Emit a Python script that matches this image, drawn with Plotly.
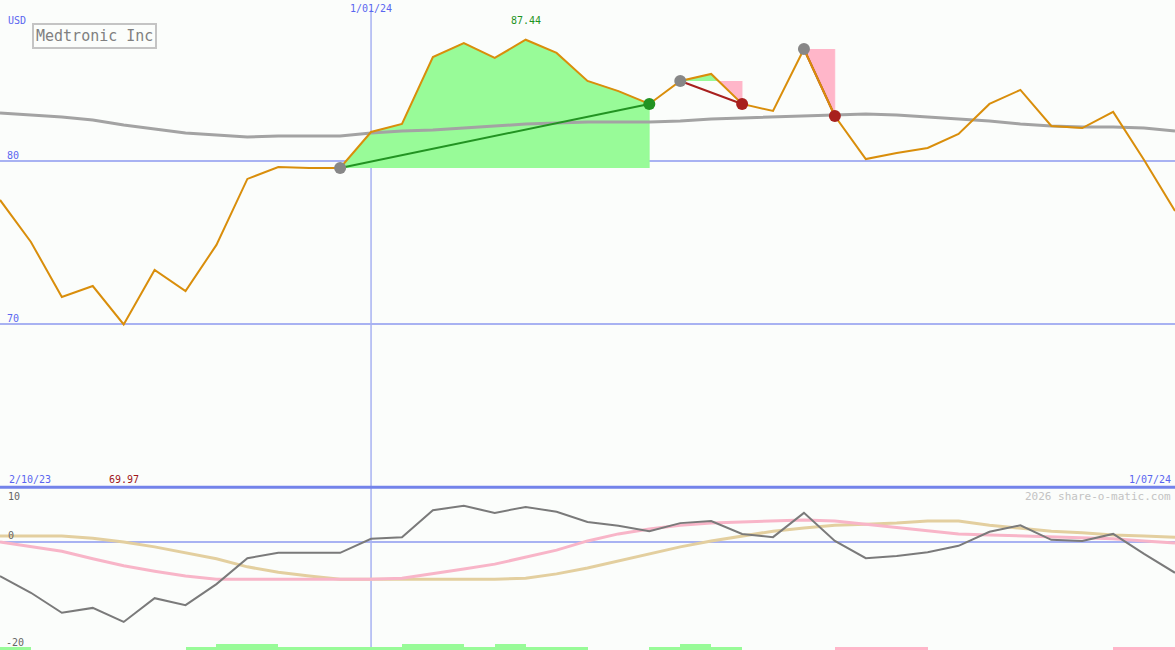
import pandas as pd
import plotly.graph_objects as go

# ---------------- data ----------------
start_date = "2023-10-09"
n_weeks = 39
dates = pd.date_range(start_date, periods=n_weeks, freq="7D")

price = [77.61, 75.03, 71.66, 72.33, 69.97, 73.31, 72.02, 74.85, 78.90, 79.63,
         79.57, 79.57, 81.78, 82.27, 86.38, 87.24, 86.32, 87.44, 86.63, 84.91,
         84.29, 83.50, 84.91, 85.34, 83.50, 83.07, 86.87, 82.76, 80.12, 80.49,
         80.80, 81.66, 83.50, 84.36, 82.15, 82.02, 83.01, 80.06, 76.93]

price_ma = [82.94, 82.82, 82.70, 82.52, 82.21, 81.96, 81.72, 81.60, 81.47, 81.53,
            81.53, 81.53, 81.72, 81.84, 81.90, 82.02, 82.15, 82.27, 82.33, 82.39,
            82.39, 82.39, 82.45, 82.58, 82.64, 82.70, 82.76, 82.82, 82.88, 82.82,
            82.70, 82.58, 82.45, 82.27, 82.15, 82.09, 82.09, 82.02, 81.84]

osc = [-6.3, -9.4, -13.1, -12.2, -14.8, -10.4, -11.7, -7.8, -3.0, -2.0,
       -2.0, -2.0, 0.6, 0.9, 5.9, 6.7, 5.4, 6.5, 5.6, 3.7,
       3.0, 2.0, 3.5, 3.9, 1.5, 0.9, 5.4, 0.2, -3.0, -2.6,
       -1.9, -0.7, 1.9, 3.1, 0.4, 0.2, 1.5, -2.2, -5.7]

osc_fast = [0.0, -0.8, -1.7, -3.1, -4.4, -5.4, -6.3, -6.9, -6.9, -6.9,
            -6.9, -6.9, -6.9, -6.7, -5.9, -5.0, -4.1, -2.8, -1.5, 0.2,
            1.5, 2.4, 3.1, 3.5, 3.7, 3.9, 4.1, 3.9, 3.3, 2.6,
            2.0, 1.5, 1.3, 1.1, 0.9, 0.7, 0.6, 0.2, -0.2]

osc_slow = [1.1, 1.1, 1.1, 0.7, 0.0, -0.9, -2.0, -3.1, -4.6, -5.6,
            -6.3, -6.9, -6.9, -6.9, -6.9, -6.9, -6.9, -6.7, -5.9, -4.8,
            -3.5, -2.2, -0.9, 0.2, 1.1, 2.0, 2.6, 3.1, 3.3, 3.5,
            3.9, 3.9, 3.1, 2.6, 2.0, 1.7, 1.3, 1.1, 0.9]

signal = [1, 0, 0, 0, 0, 0, 1, 2, 2, 1,
          1, 1, 1, 2, 2, 1, 2, 1, 1, 0,
          0, 1, 2, 1, 0, 0, 0, -1, -1, -1,
          0, 0, 0, 0, 0, 0, -1, -1, 0]

trade_entry = [11, 22, 26]
trade_exit = [21, 24, 27]

price_ticks = [80, 70]
osc_ticks = [10, 0, -20]
company = "Medtronic Inc"
currency = "USD"
marker_date = "2024-01-01"
marker_label = "1/01/24"
range_start_label = "2/10/23"
range_end_label = "1/07/24"
credit = "2026 share-o-matic.com"

# ---------------- style ----------------
BG = "#fbfdfb"
BLUE_TXT = "#5a66f0"
GRID = "#a8b2f2"
SEP = "#7383ea"
ORANGE = "#d98e0b"
GREEN_FILL = "#98fb98"
PINK_FILL = "#ffb6c9"
FONT = "DejaVu Sans Mono"

fig = go.Figure()

# trade fills (between price and entry level), merged into one polygon per colour run
def add_poly(xs, ys, color):
    fig.add_trace(go.Scatter(x=xs, y=ys, fill="toself", fillcolor=color,
                             line=dict(width=0.6, color=color), mode="lines", hoverinfo="skip",
                             showlegend=False, xaxis="x", yaxis="y"))

for a, b in zip(trade_entry, trade_exit):
    lvl = price[a]
    pts = [(dates[a], price[a])]
    for i in range(a, b):
        d0, d1 = dates[i], dates[i + 1]
        s0, s1 = price[i] - lvl, price[i + 1] - lvl
        if s0 * s1 < 0:
            t = s0 / (s0 - s1)
            pts.append((d0 + (d1 - d0) * t, lvl))
        pts.append((d1, price[i + 1]))
    runs, cur, cur_up = [], [pts[0]], None
    for d, p in pts[1:]:
        if p == lvl:
            cur.append((d, p))
            if cur_up is not None:
                runs.append((cur_up, cur))
                cur, cur_up = [(d, p)], None
            continue
        up = p > lvl
        if cur_up is None:
            cur_up = up
        cur.append((d, p))
    if cur_up is not None and len(cur) > 1:
        runs.append((cur_up, cur))
    for up, run in runs:
        xs = [run[0][0]] + [d for d, _ in run] + [run[-1][0]]
        ys = [lvl] + [p for _, p in run] + [lvl]
        add_poly(xs, ys, GREEN_FILL if up else PINK_FILL)

# moving average
fig.add_trace(go.Scatter(x=dates, y=price_ma, mode="lines",
                         line=dict(color="#a3a3a3", width=3), showlegend=False,
                         hoverinfo="skip", xaxis="x", yaxis="y"))

# trade lines
for a, b in zip(trade_entry, trade_exit):
    col = "#229322" if price[b] >= price[a] else "#a8201e"
    fig.add_trace(go.Scatter(x=[dates[a], dates[b]], y=[price[a], price[b]], mode="lines",
                             line=dict(color=col, width=2), showlegend=False,
                             hoverinfo="skip", xaxis="x", yaxis="y"))

# price
fig.add_trace(go.Scatter(x=dates, y=price, mode="lines",
                         line=dict(color=ORANGE, width=2), showlegend=False,
                         xaxis="x", yaxis="y"))

# trade markers
fig.add_trace(go.Scatter(x=[dates[a] for a in trade_entry], y=[price[a] for a in trade_entry],
                         mode="markers", marker=dict(color="#878787", size=12),
                         showlegend=False, hoverinfo="skip", xaxis="x", yaxis="y"))
fig.add_trace(go.Scatter(x=[dates[b] for b in trade_exit], y=[price[b] for b in trade_exit],
                         mode="markers",
                         marker=dict(color=["#229322" if price[b] >= price[a] else "#a8201e"
                                            for a, b in zip(trade_entry, trade_exit)], size=12),
                         showlegend=False, hoverinfo="skip", xaxis="x", yaxis="y"))

# lower panel
fig.add_trace(go.Bar(x=dates, y=[abs(s) for s in signal],
                     marker=dict(color=[GREEN_FILL if s > 0 else PINK_FILL for s in signal],
                                 line=dict(width=0)),
                     offset=0, width=7 * 86400000, showlegend=False, hoverinfo="skip",
                     xaxis="x", yaxis="y3"))
fig.add_trace(go.Scatter(x=dates, y=osc_slow, mode="lines", line=dict(color="#e3cf9f", width=3),
                         showlegend=False, hoverinfo="skip", xaxis="x", yaxis="y2"))
fig.add_trace(go.Scatter(x=dates, y=osc_fast, mode="lines", line=dict(color="#f8b5c8", width=3),
                         showlegend=False, hoverinfo="skip", xaxis="x", yaxis="y2"))
fig.add_trace(go.Scatter(x=dates, y=osc, mode="lines", line=dict(color="#7a7a7a", width=2),
                         showlegend=False, hoverinfo="skip", xaxis="x", yaxis="y2"))

# shapes: grid lines
shapes = []
for v in price_ticks:
    shapes.append(dict(type="line", xref="paper", yref="y", x0=0, x1=1, y0=v, y1=v,
                       line=dict(color=GRID, width=2), layer="below"))
shapes.append(dict(type="line", xref="paper", yref="y2", x0=0, x1=1, y0=0, y1=0,
                   line=dict(color=GRID, width=2), layer="below"))
shapes.append(dict(type="line", xref="x", yref="paper", x0=marker_date, x1=marker_date,
                   y0=0, y1=0.985, line=dict(color=GRID, width=1.5), layer="below"))
shapes.append(dict(type="line", xref="paper", yref="paper", x0=0, x1=1, y0=0.2505, y1=0.2505,
                   line=dict(color=SEP, width=3)))

ann = []
def txt(x, y, s, color, xref="paper", yref="paper", xanchor="left", yanchor="middle", size=10, **kw):
    ann.append(dict(x=x, y=y, xref=xref, yref=yref, text=s, showarrow=False,
                    xanchor=xanchor, yanchor=yanchor,
                    font=dict(family=FONT, size=size, color=color), **kw))

txt(0.005, 1 - 20 / 650, currency, BLUE_TXT)
for v in price_ticks:
    txt(0.004, v, str(v), BLUE_TXT, yref="y", yanchor="bottom", yshift=-2)
txt(marker_date, 1 - 9 / 650, marker_label, BLUE_TXT, xref="x", xanchor="center")
txt(0.006, 1 - 479 / 650, range_start_label, BLUE_TXT)
txt(0.998, 1 - 479 / 650, range_end_label, BLUE_TXT, xanchor="right")
imin = price.index(min(price))
imax = price.index(max(price))
txt(dates[imin], 1 - 479 / 650, f"{min(price):.2f}", "#a0161a", xref="x", xanchor="center")
txt(dates[imax], 1 - 21 / 650, f"{max(price):.2f}", "#1f941f", xref="x", xanchor="center")
txt(0.005, 1 - 496 / 650, str(osc_ticks[0]), "#666666")
txt(0.005, 1 - 535 / 650, str(osc_ticks[1]), "#666666")
txt(0.003, 1 - 642 / 650, str(osc_ticks[2]), "#666666")
txt(0.998, 1 - 496 / 650, credit, "#c3c3c3", xanchor="right", size=11)
txt(32 / 1175, 1 - 36 / 650, company, "#808080", size=15,
    bordercolor="#c4c4c4", borderwidth=2, borderpad=2, bgcolor=BG)

fig.update_layout(
    width=1175, height=650,
    margin=dict(l=0, r=0, t=0, b=0),
    paper_bgcolor=BG, plot_bgcolor=BG,
    showlegend=False, bargap=0,
    xaxis=dict(type="date", range=[dates[0], dates[-1]], visible=False, fixedrange=True),
    yaxis=dict(domain=[0.2508, 1], range=[60, 89.877], visible=False),
    yaxis2=dict(domain=[0, 0.2492], range=[-20, 10], visible=False),
    yaxis3=dict(domain=[0, 0.2492], range=[0, 54], visible=False, overlaying="y2"),
    shapes=shapes, annotations=ann,
)

fig.write_html("out.html", config={"displayModeBar": False},
               post_script="document.body.style.margin='0';document.body.style.overflow='hidden';")
